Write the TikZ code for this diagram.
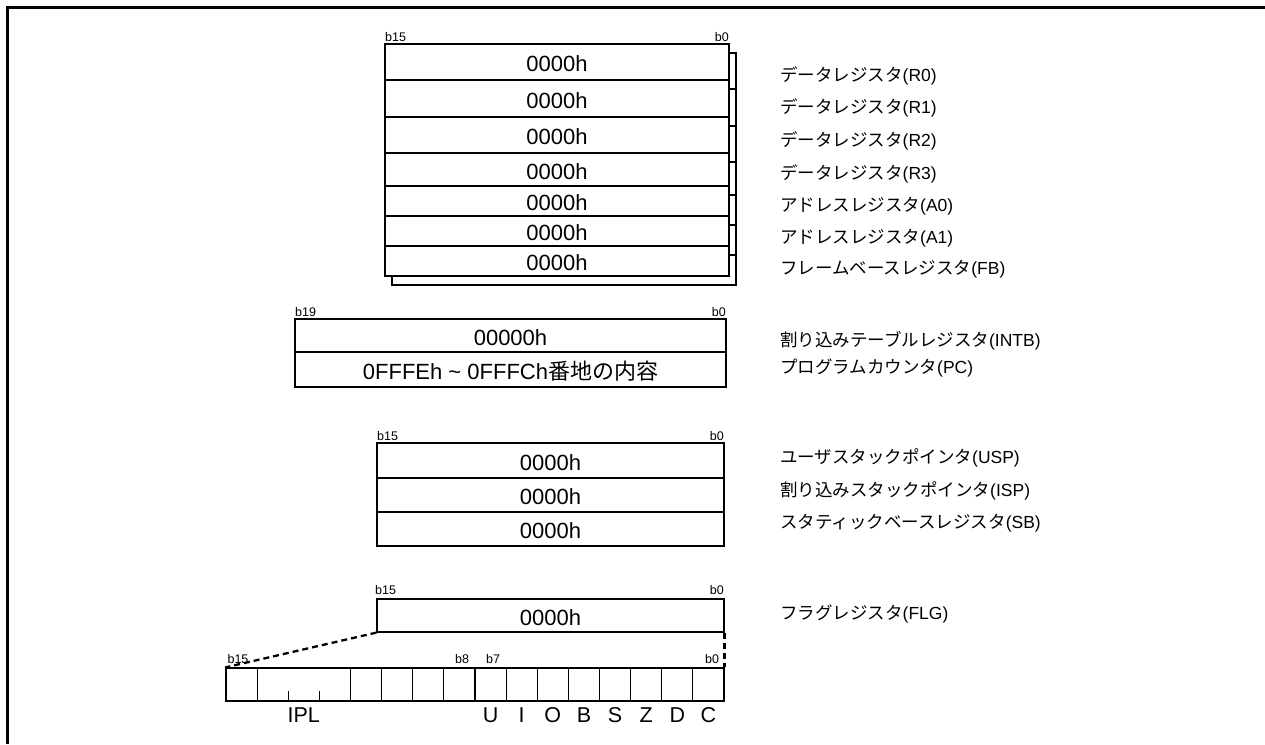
\documentclass[tikz,border=0pt]{standalone}
\usepackage{fontspec}
\setmainfont{Liberation Sans}
\newfontfamily\cjk{Noto Sans CJK JP}
\begin{document}
\begin{tikzpicture}[x=1pt,y=-1pt,
  reg/.style={draw,line width=1.2pt,fill=white,inner sep=0pt,text height=19pt,text depth=0pt,font=\fontsize{22}{26}\selectfont},
  shadowbox/.style={draw,line width=1.2pt,fill=white},
  bitlab/.style={inner sep=0pt,font=\fontsize{12.5}{14}\selectfont},
  namelab/.style={anchor=base west,inner sep=0pt,font=\fontsize{17.5}{20}\selectfont},
  cell/.style={draw,line width=1.2pt,minimum height=33pt,inner sep=0pt},
  flaglab/.style={inner sep=0pt,font=\fontsize{21.5}{24}\selectfont},
  zoomline/.style={line width=2.3pt,dash pattern=on 6pt off 4pt}]
\useasboundingbox (0,0) rectangle (1265,744);
% frame
\draw[line width=3pt] (7.5,744) -- (7.5,7.5) -- (1265,7.5);

% ---- data/address/frame base registers with shadows
\foreach \t/\b in {44/80,80/117,117/153,153/186,186/216,216/246,246/276}
  \draw[shadowbox] (392,\t+9) rectangle (736,\b+9);
\foreach \t/\b [count=\i from 0] in {44/80,80/117,117/153,153/186,186/216,216/246,246/276}
  \node[reg,minimum width=344pt,minimum height={\b-\t}] (r\i) at (557,{(\t+\b)/2}) {0000h};
\node[bitlab,anchor=west] (tb15) at (385,37) {b15};
\node[bitlab,anchor=east] (tb0) at (729,37) {b0};

% ---- INTB / PC
\node[reg,minimum width=431pt,minimum height=33pt] (intb) at (510.5,335.5) {00000h};
\node[reg,minimum width=431pt,minimum height=35pt] (pc) at (510.5,369.5) {0FFFEh \textasciitilde{} 0FFFCh{\cjk 番地の内容}};
\node[bitlab,anchor=west] (ib19) at (295,312) {b19};
\node[bitlab,anchor=east] (ib0) at (726,312) {b0};

% ---- USP / ISP / SB
\node[reg,minimum width=347pt,minimum height=35pt] (usp) at (550.5,460.5) {0000h};
\node[reg,minimum width=347pt,minimum height=34pt] (isp) at (550.5,495) {0000h};
\node[reg,minimum width=347pt,minimum height=34pt] (sb) at (550.5,529) {0000h};
\node[bitlab,anchor=west] (ub15) at (377,436) {b15};
\node[bitlab,anchor=east] (ub0) at (724,436) {b0};

% ---- FLG
\node[reg,minimum width=347pt,minimum height=33pt] (flg) at (550.5,615.5) {0000h};
\node[bitlab,anchor=west] (fb15) at (375,590) {b15};
\node[bitlab,anchor=east] (fb0) at (724,590) {b0};

% bit cells
\node[cell,minimum width=31.125pt] (c15) at (241.56,684.5) {};
\node[cell,minimum width=93.375pt] (cipl) at (303.81,684.5) {};
\foreach \i in {0,...,11}
  \node[cell,minimum width=31.125pt] (c\i) at ({724-31.125*(\i+0.5)},684.5) {};
\draw[line width=1.2pt] (288.25,701) -- (288.25,691);
\draw[line width=1.2pt] (319.375,701) -- (319.375,691);

% zoom lines
\draw[zoomline] (flg.south west) -- (c15.north west);
\draw[zoomline] (flg.south east) -- (c0.north east);

% bit labels
\node[bitlab] (lb15) at (238,659) {b15};
\node[bitlab] (lb8) at (462,659) {b8};
\node[bitlab] (lb7) at (493,659) {b7};
\node[bitlab] (lb0) at (712,659) {b0};

% flag names
\node[flaglab] (nipl) at (cipl.center |- 0,715) {IPL};
\foreach \n [count=\k from 0] in {C,D,Z,S,B,O,I,U}
  \node[flaglab] (n\n) at (c\k.center |- 0,715) {\n};

% register names
\node[namelab] (lr0) at (780,81) {{\cjk データレジスタ}(R0)};
\node[namelab] (lr1) at (780,113) {{\cjk データレジスタ}(R1)};
\node[namelab] (lr2) at (780,146) {{\cjk データレジスタ}(R2)};
\node[namelab] (lr3) at (780,179) {{\cjk データレジスタ}(R3)};
\node[namelab] (la0) at (780,211) {{\cjk アドレスレジスタ}(A0)};
\node[namelab] (la1) at (780,243) {{\cjk アドレスレジスタ}(A1)};
\node[namelab] (lfb) at (780,274) {{\cjk フレームベースレジスタ}(FB)};
\node[namelab] (lintb) at (780,346) {{\cjk 割り込みテーブルレジスタ}(INTB)};
\node[namelab] (lpc) at (780,373) {{\cjk プログラムカウンタ}(PC)};
\node[namelab] (lusp) at (780,463) {{\cjk ユーザスタックポインタ}(USP)};
\node[namelab] (lisp) at (780,496) {{\cjk 割り込みスタックポインタ}(ISP)};
\node[namelab] (lsb) at (780,528) {{\cjk スタティックベースレジスタ}(SB)};
\node[namelab] (lflg) at (780,619) {{\cjk フラグレジスタ}(FLG)};
\end{tikzpicture}
\end{document}
